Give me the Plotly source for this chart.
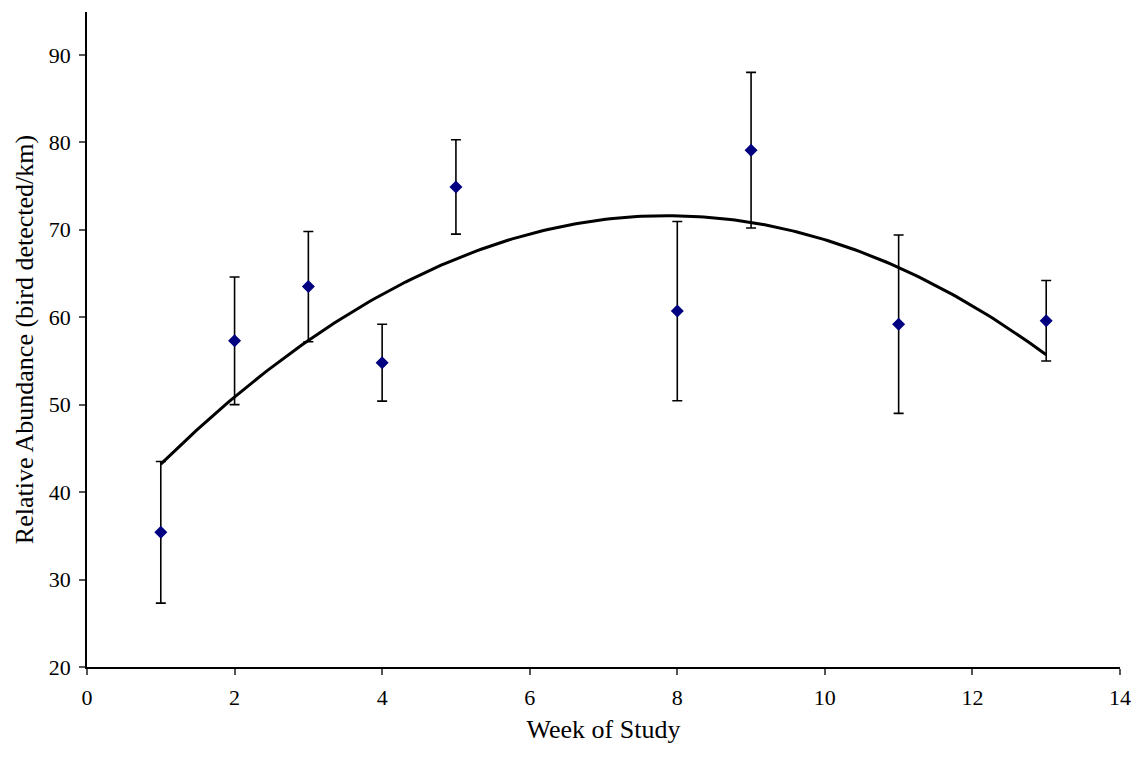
import numpy as np
import plotly.graph_objects as go

# Weekly survey results
weeks = [1, 2, 3, 4, 5, 8, 9, 11, 13]
abundance = [35.4, 57.3, 63.5, 54.8, 74.9, 60.7, 79.1, 59.2, 59.6]
error = [8.1, 7.3, 6.3, 4.4, 5.4, 10.25, 8.9, 10.2, 4.6]

# Second-order polynomial trend through the weekly means
coef = np.polyfit(weeks, abundance, 2)
trend_x = np.linspace(min(weeks), max(weeks), 200)
trend_y = np.polyval(coef, trend_x)

font_family = "Liberation Serif, Times New Roman, serif"

fig = go.Figure()
fig.add_trace(go.Scatter(
    x=trend_x, y=trend_y, mode="lines",
    line=dict(color="black", width=3),
    hoverinfo="skip", showlegend=False,
))
fig.add_trace(go.Scatter(
    x=weeks, y=abundance, mode="markers",
    marker=dict(symbol="diamond", size=10, color="#000080"),
    error_y=dict(type="data", array=error, visible=True,
                 color="black", thickness=1.6, width=5),
    showlegend=False,
))

fig.update_layout(
    width=1143, height=761,
    margin=dict(l=87, r=17, t=12, b=94),
    paper_bgcolor="white", plot_bgcolor="white",
    font=dict(family=font_family, size=22, color="black"),
    xaxis=dict(
        range=[0, 14], dtick=2, tick0=0,
        showline=True, linecolor="black", linewidth=1.5,
        ticks="outside", ticklen=6, tickcolor="#555555", tickwidth=1.5,
        ticklabelstandoff=4,
        showgrid=False, zeroline=False,
        title=dict(text="Week of Study", standoff=11, font=dict(size=26)),
    ),
    yaxis=dict(
        range=[20, 94.9], dtick=10, tick0=20,
        showline=True, linecolor="black", linewidth=1.5,
        ticks="outside", ticklen=6, tickcolor="#555555", tickwidth=1.5,
        ticklabelstandoff=4,
        showgrid=False, zeroline=False,
        title=dict(text="Relative Abundance (bird detected/km)", standoff=8,
                   font=dict(size=26)),
    ),
)

fig.write_html("out.html")
